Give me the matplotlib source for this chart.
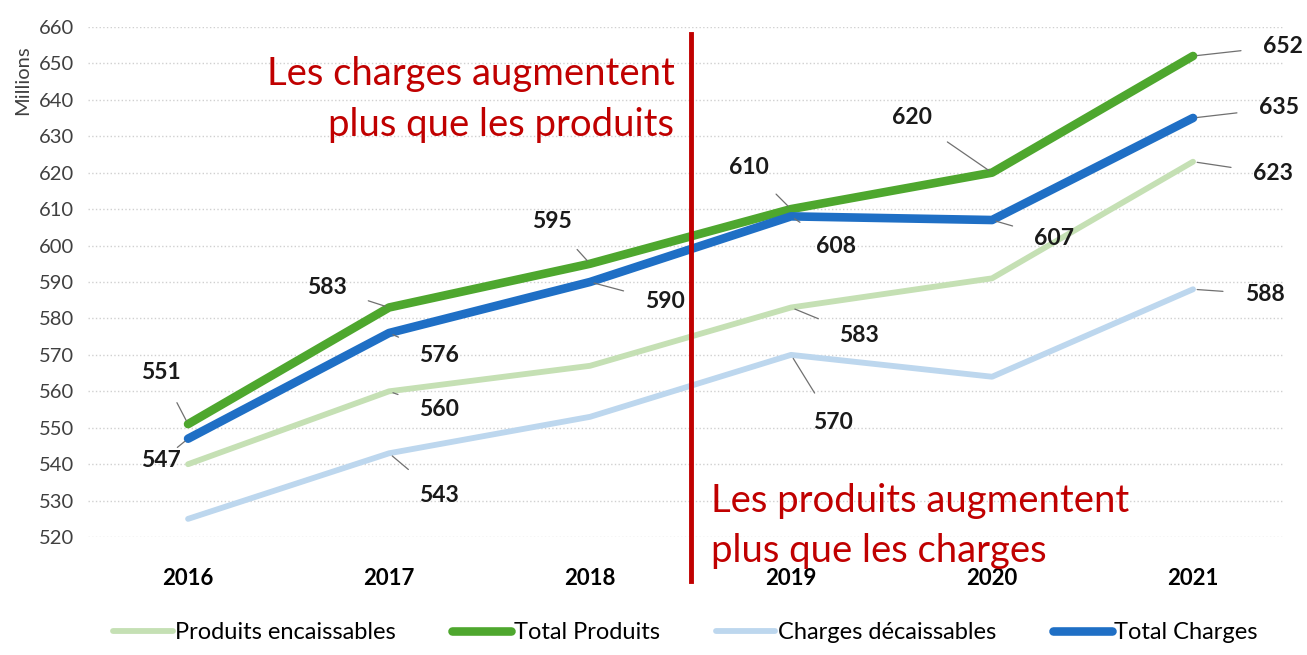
import matplotlib.pyplot as plt

plt.rcParams['font.family'] = ['Lato', 'DejaVu Sans']

years = ['2016', '2017', '2018', '2019', '2020', '2021']
produits_enc = [540, 560, 567, 583, 591, 623]
total_produits = [551, 583, 595, 610, 620, 652]
charges_dec = [525, 543, 553, 570, 564, 588]
total_charges = [547, 576, 590, 608, 607, 635]

# (series, index, label offset in pixels) for the value labels
labels = [
    (total_produits, 0, (-27, 52)),
    (total_charges, 0, (-27, -22)),
    (total_produits, 1, (-62, 20)),
    (total_charges, 1, (50, -22)),
    (produits_enc, 1, (50, -18)),
    (charges_dec, 1, (50, -42)),
    (total_produits, 2, (-38, 42)),
    (total_charges, 2, (75, -20)),
    (total_produits, 3, (-42, 42)),
    (total_charges, 3, (45, -30)),
    (produits_enc, 3, (68, -28)),
    (charges_dec, 3, (42, -68)),
    (total_produits, 4, (-80, 55)),
    (total_charges, 4, (62, -18)),
    (total_produits, 5, (90, 10)),
    (total_charges, 5, (86, 10)),
    (produits_enc, 5, (80, -12)),
    (charges_dec, 5, (72, -5)),
]

fig, ax = plt.subplots(figsize=(13.07, 6.55), dpi=100)
fig.subplots_adjust(left=0.067, right=0.982, bottom=0.18, top=0.959)

x = range(len(years))
ax.plot(x, produits_enc, color='#C5E0B4', lw=4.2, label='Produits encaissables', solid_capstyle='round')
ax.plot(x, total_produits, color='#4EA72E', lw=6.2, label='Total Produits', solid_capstyle='round')
ax.plot(x, charges_dec, color='#BDD7EE', lw=4.2, label='Charges décaissables', solid_capstyle='round')
ax.plot(x, total_charges, color='#1F6FC5', lw=6.2, label='Total Charges', solid_capstyle='round')

for series, i, (dx, dy) in labels:
    ax.annotate(str(series[i]), (i, series[i]), xytext=(dx, dy), textcoords='offset pixels',
                ha='center', va='center', fontsize=16.5, fontweight='bold', color='#1a1a1a',
                arrowprops=dict(arrowstyle='-', color='#707070', lw=0.9, shrinkA=14, shrinkB=3))

ax.set_xlim(-0.5, 5.45)
ax.set_ylim(520, 660)
ax.set_yticks(range(520, 661, 10))
ax.set_xticks(list(x))
ax.set_xticklabels(years, fontsize=16, fontweight='bold')
ax.tick_params(axis='y', labelsize=14.5, colors='#404040', length=0, pad=10)
ax.tick_params(axis='x', length=0, pad=22)
ax.grid(axis='y', color='#d0d0d0', linestyle=':', lw=1)
for s in ax.spines.values():
    s.set_visible(False)

ax.plot([2.5, 2.5], [658, 508], color='#C00000', lw=3.5, clip_on=False)
ax.text(2.42, 640, 'Les charges augmentent\nplus que les produits', color='#C00000',
        fontsize=27.5, ha='right', va='center', linespacing=1.5)
ax.text(2.6, 523, 'Les produits augmentent\nplus que les charges', color='#C00000',
        fontsize=27.5, ha='left', va='center', linespacing=1.5)

fig.text(0.017, 0.878, 'Millions', rotation=90, fontsize=14.5, color='#404040', ha='center', va='center')

ax.legend(loc='upper center', bbox_to_anchor=(0.5, -0.125), ncol=4, frameon=False,
          fontsize=17, handlelength=2.5, columnspacing=2.4, handletextpad=0.1)

fig.savefig('out.png')
